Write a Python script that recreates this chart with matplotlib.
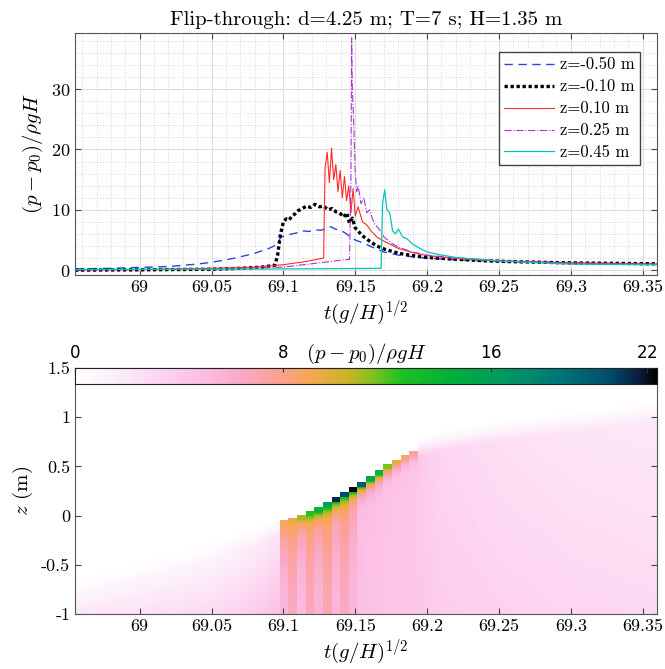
import numpy as np
import matplotlib
matplotlib.use("Agg")
import matplotlib.pyplot as plt
from matplotlib.colors import LinearSegmentedColormap

plt.rcParams['font.family'] = 'cmr10'
plt.rcParams['mathtext.fontset'] = 'cm'
plt.rcParams['axes.unicode_minus'] = False
plt.rcParams['axes.formatter.use_mathtext'] = True

# ---- pressure gauges (upper panel) ----
t_m050 = [68.955, 68.98, 69.0, 69.02, 69.04, 69.05, 69.06, 69.07, 69.08, 69.09, 69.096, 69.098, 69.102,
          69.106, 69.11, 69.114, 69.118, 69.122, 69.126, 69.13, 69.133, 69.136, 69.14, 69.144, 69.148,
          69.152, 69.156, 69.16, 69.165, 69.17, 69.18, 69.19, 69.2, 69.22, 69.24, 69.26, 69.28, 69.3,
          69.32, 69.34, 69.36]
p_m050 = [0.2, 0.3, 0.45, 0.6, 1.0, 1.3, 1.7, 2.2, 2.8, 3.6, 4.3, 5.4, 5.8, 6.0, 6.2, 6.5, 6.4, 6.7, 6.6,
          6.9, 7.2, 6.8, 6.6, 6.0, 5.2, 4.8, 4.5, 4.0, 3.5, 3.0, 2.5, 2.2, 2.0, 1.7, 1.55, 1.4, 1.3, 1.2,
          1.1, 1.1, 1.0]

t_m010 = [68.955, 69.0, 69.05, 69.07, 69.085, 69.094, 69.096, 69.098, 69.1, 69.102, 69.104, 69.106,
          69.108, 69.11, 69.113, 69.116, 69.119, 69.122, 69.125, 69.128, 69.131, 69.134, 69.137, 69.14,
          69.142, 69.144, 69.146, 69.148, 69.15, 69.153, 69.156, 69.16, 69.165, 69.17, 69.18, 69.19,
          69.2, 69.22, 69.24, 69.26, 69.28, 69.3, 69.32, 69.34, 69.36]
p_m010 = [0.0, 0.05, 0.15, 0.3, 0.5, 0.8, 2.5, 6.0, 8.0, 8.5, 8.3, 9.0, 9.3, 9.8, 10.2, 10.6, 10.4, 10.9,
          10.5, 10.6, 10.0, 10.2, 9.6, 9.3, 8.8, 9.5, 7.8, 8.6, 7.0, 6.2, 5.5, 4.8, 4.0, 3.5, 2.8, 2.4,
          2.1, 1.8, 1.55, 1.4, 1.3, 1.2, 1.15, 1.1, 1.05]

t_p010 = [68.955, 69.0, 69.05, 69.08, 69.1, 69.115, 69.128, 69.129, 69.1305, 69.132, 69.1335, 69.135,
          69.1365, 69.138, 69.1395, 69.141, 69.1425, 69.144, 69.1455, 69.147, 69.1485, 69.15, 69.152,
          69.155, 69.158, 69.161, 69.165, 69.17, 69.175, 69.18, 69.19, 69.2, 69.22, 69.25, 69.3, 69.36]
p_p010 = [0.05, 0.1, 0.3, 0.5, 0.9, 1.4, 2.0, 17.0, 19.5, 14.5, 20.2, 15.0, 17.5, 13.0, 16.5, 12.0,
          15.5, 11.5, 14.0, 9.5, 13.5, 9.0, 10.5, 8.0, 7.5, 6.5, 5.5, 4.8, 4.2, 3.6, 2.9, 2.4, 1.9, 1.5,
          1.2, 1.0]

t_p025 = [68.955, 69.05, 69.1, 69.146, 69.147, 69.1475, 69.148, 69.149, 69.15, 69.151, 69.152, 69.154,
          69.156, 69.158, 69.16, 69.163, 69.166, 69.17, 69.175, 69.18, 69.19, 69.2, 69.22, 69.25, 69.3,
          69.36]
p_p025 = [0.05, 0.15, 0.5, 1.8, 15.0, 38.5, 30.0, 24.0, 16.0, 13.0, 14.0, 11.0, 12.0, 9.5, 10.0, 7.8,
          7.0, 5.5, 4.5, 3.8, 3.0, 2.5, 2.0, 1.6, 1.2, 1.0]

t_p045 = [68.955, 69.05, 69.1, 69.168, 69.169, 69.1705, 69.172, 69.174, 69.176, 69.178, 69.18, 69.183,
          69.186, 69.19, 69.195, 69.2, 69.21, 69.22, 69.25, 69.3, 69.36]
p_p045 = [0.1, 0.15, 0.2, 0.3, 11.0, 13.3, 10.0, 9.5, 6.5, 6.0, 6.8, 5.5, 5.2, 4.3, 3.6, 3.0, 2.5, 2.1,
          1.5, 1.0, 0.9]

# ---- pressure field (lower panel) ----
# free surface and pressure away from the impact
surf_t = [68.955, 69.0, 69.05, 69.08, 69.097, 69.193, 69.21, 69.25, 69.3, 69.36]
surf_z = [-0.72, -0.55, -0.36, -0.2, -0.1, 0.68, 0.76, 0.86, 0.95, 1.05]
deep_p = [2.2, 2.5, 3.0, 3.8, 4.8, 4.2, 3.8, 3.5, 3.2, 3.0]
near_p = [0.6, 0.8, 1.0, 1.4, 2.0, 4.2, 3.2, 2.6, 2.2, 2.0]

# impact columns: edges, surface height, pressure at surface / just below / bottom
imp_edges = [69.097, 69.103, 69.109, 69.115, 69.121, 69.127, 69.133, 69.139, 69.145, 69.151, 69.157,
             69.163, 69.169, 69.175, 69.181, 69.187, 69.193]
imp_eta = [-0.04, -0.02, 0.01, 0.05, 0.09, 0.14, 0.19, 0.24, 0.29, 0.34, 0.40, 0.46, 0.52, 0.57, 0.62, 0.66]
imp_top = [9.0, 9.5, 11.0, 12.5, 14.0, 15.5, 21.5, 20.5, 22.3, 20.0, 15.0, 14.0, 11.5, 9.5, 8.5, 7.5]
imp_shallow = [8.6, 9.0, 7.8, 9.0, 8.4, 9.2, 8.0, 9.0, 7.6, 5.0, 5.0, 4.8, 4.6, 4.5, 4.4, 4.3]
imp_deep = [5.4, 6.6, 5.2, 6.8, 5.6, 7.0, 5.4, 6.6, 5.4, 4.8, 4.6, 4.5, 4.4, 4.3, 4.2, 4.2]

cmap_vals = [0, 1.5, 3, 5, 6.5, 8, 9.2, 10.5, 11.5, 12.5, 14.5, 16.5, 18.5, 20.5, 21.8, 22.4]
cmap_cols = ['#ffffff', '#fcf0fa', '#fdd8f2', '#fcbce2', '#f9a8c4', '#fca08a', '#f4a84c', '#c8b428',
             '#80c020', '#20c020', '#00b038', '#009a60', '#007878', '#00506e', '#0a1a3a', '#000000']
vmax = 22.4
cmap = LinearSegmentedColormap.from_list('flip', [(v / vmax, c) for v, c in zip(cmap_vals, cmap_cols)])

# build grid
t_edges = np.arange(68.955, 69.3601, 0.0015)
z_edges = np.arange(-1.0, 1.5001, 0.01)
tc = 0.5 * (t_edges[:-1] + t_edges[1:])
zc = 0.5 * (z_edges[:-1] + z_edges[1:])

eta = np.interp(tc, surf_t, surf_z)
pb = np.interp(tc, surf_t, deep_p)
pn = np.interp(tc, surf_t, near_p)
depth = eta[None, :] - zc[:, None]
frac = (zc[:, None] + 1) / (eta[None, :] + 1)
P = (pb + (pn - pb) * frac) * np.clip(0.5 + depth / 0.2, 0, 1)

k = np.searchsorted(imp_edges, tc, side='right') - 1
inside = (k >= 0) & (k < len(imp_top))
for j in np.where(inside)[0]:
    c = k[j]
    d = imp_eta[c] - zc
    f = (zc + 1) / (imp_eta[c] + 1)
    col = imp_deep[c] + (imp_shallow[c] - imp_deep[c]) * f ** 2
    sub = min(imp_top[c], 14.5)
    col = col + (sub - col) * np.exp(-np.clip(d - 0.045, 0, None) / 0.06)
    col[(d >= 0) & (d < 0.045)] = imp_top[c]
    col[d < 0] = 0
    P[:, j] = col

fig = plt.figure(figsize=(6.65, 6.69), dpi=100)
ax1 = fig.add_axes([0.1128, 0.589, 0.8752, 0.3617])
ax2 = fig.add_axes([0.1128, 0.0822, 0.8752, 0.3677])
cax = fig.add_axes([0.1128, 0.426, 0.8752, 0.0239])

ax1.plot(t_m050, p_m050, color='#2a45e0', lw=1.0, ls=(0, (6, 4)), label='z=-0.50 m')
ax1.plot(t_m010, p_m010, color='black', lw=2.4, ls=(0, (1, 0.8)), label='z=-0.10 m')
ax1.plot(t_p010, p_p010, '-', color='#ff2a2a', lw=0.8, label='z=0.10 m')
ax1.plot(t_p025, p_p025, '-.', color='#b030d0', lw=0.8, label='z=0.25 m')
ax1.plot(t_p045, p_p045, '-', color='#00c8b4', lw=0.9, label='z=0.45 m')

xt = [69, 69.05, 69.1, 69.15, 69.2, 69.25, 69.3, 69.35]
xl = ['69', '69.05', '69.1', '69.15', '69.2', '69.25', '69.3', '69.35']
for ax in (ax1, ax2):
    ax.set_xlim(68.955, 69.36)
    ax.set_xticks(xt)
    ax.set_xticklabels(xl)
    ax.tick_params(direction='in', length=4, labelsize=13, color='#444444', top=True, right=True)
    ax.set_xlabel(r'$t(g/H)^{1/2}$', fontsize=15, labelpad=2)
    for s in ax.spines.values():
        s.set_color('#555555')

ax1.set_ylim(-0.8, 39.3)
ax1.set_yticks([0, 10, 20, 30])
ax1.set_xticks(np.arange(68.96, 69.36, 0.01), minor=True)
ax1.set_yticks(np.arange(0, 39, 2), minor=True)
ax1.tick_params(which='minor', length=0)
ax1.grid(True, which='major', color='#dddddd', lw=0.8)
ax1.grid(True, which='minor', color='#cccccc', lw=0.6, ls=(0, (1, 2)))
ax1.set_axisbelow(True)
ax1.set_ylabel(r'$(p-p_0)/\rho g H$', fontsize=15, labelpad=4)
ax1.set_title('Flip-through: d=4.25 m; T=7 s; H=1.35 m', fontsize=15, pad=6)
leg = ax1.legend(loc='upper right', bbox_to_anchor=(0.971, 0.921), borderaxespad=0, fontsize=12,
                 fancybox=False, framealpha=1, edgecolor='#444444', handlelength=3.0,
                 labelspacing=0.4, handletextpad=0.4, borderpad=0.3)

mesh = ax2.pcolormesh(t_edges, z_edges, P, cmap=cmap, vmin=0, vmax=vmax, shading='flat')
ax2.set_ylim(-1, 1.5)
ax2.set_yticks([-1, -0.5, 0, 0.5, 1, 1.5])
ax2.set_yticklabels(['-1', '-0.5', '0', '0.5', '1', '1.5'])
ax2.set_ylabel(r'$z$ (m)', fontsize=15, labelpad=4)

cb = fig.colorbar(mesh, cax=cax, orientation='horizontal', ticks=[0, 8, 16, 22])
cax.xaxis.set_ticks_position('top')
cax.tick_params(direction='in', length=3, color='#333333', pad=4)
for lab in cax.get_xticklabels():
    lab.set_fontfamily('DejaVu Sans')
    lab.set_fontsize(12)
cb.outline.set_edgecolor('#222222')
cax.text(0.5, 1.15, r'$(p-p_0)/\rho g H$', transform=cax.transAxes, ha='center', va='bottom', fontsize=15)

fig.savefig('out.png', dpi=100)
